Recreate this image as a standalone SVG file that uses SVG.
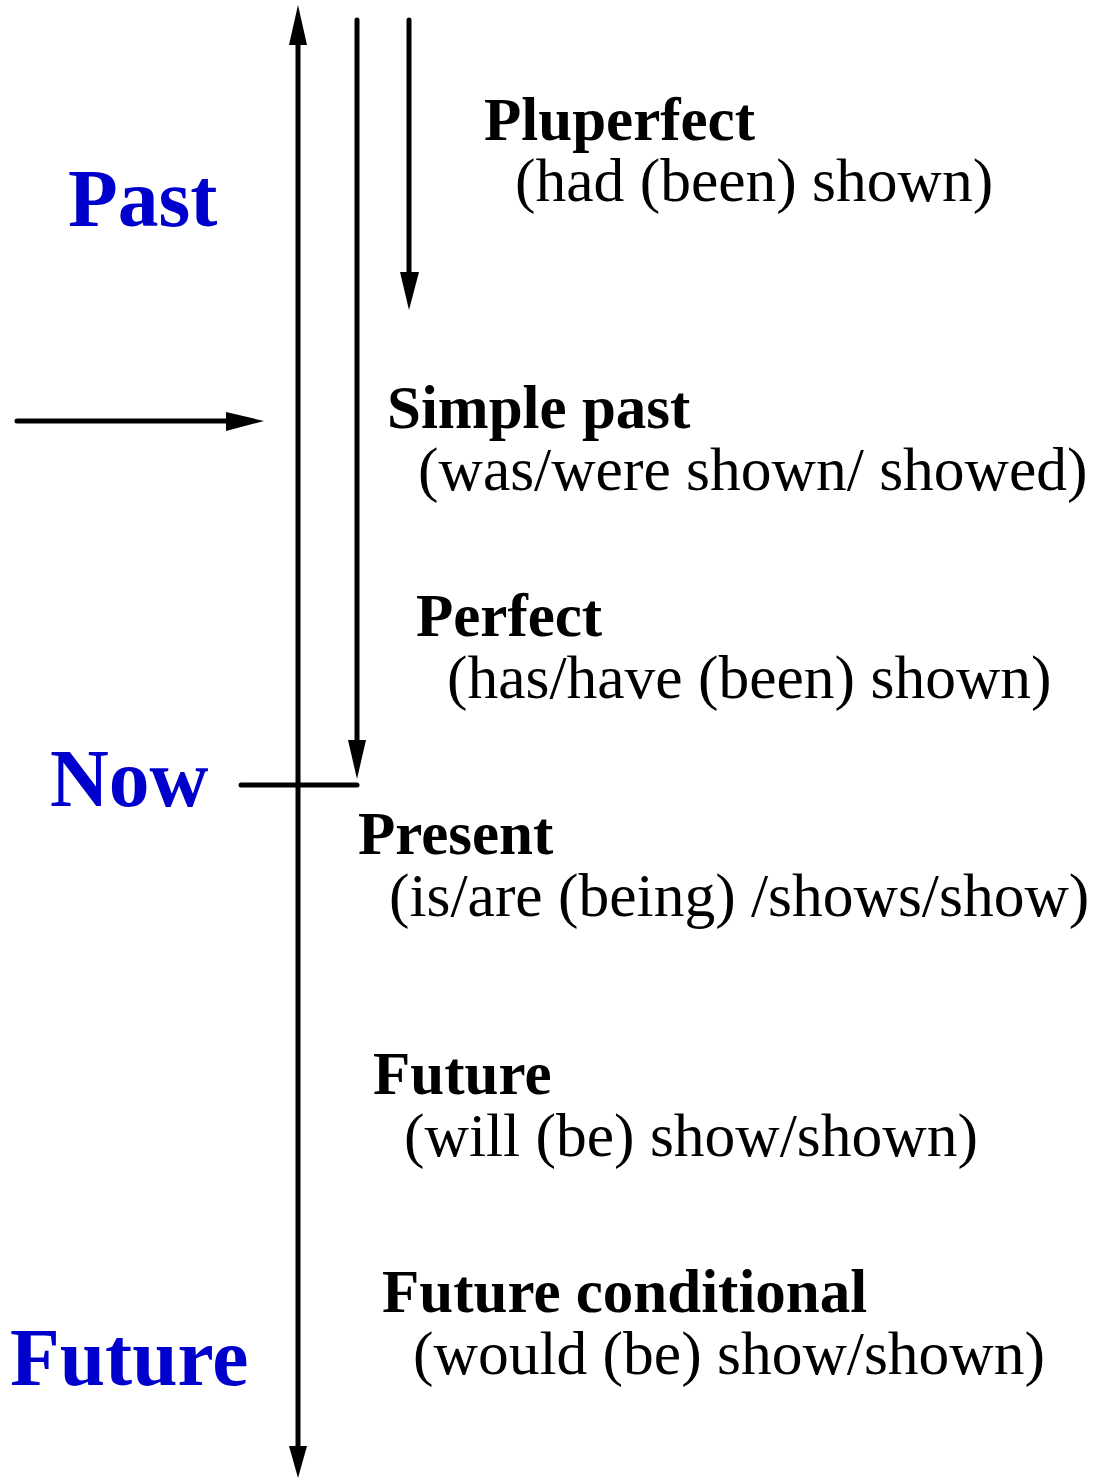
<svg xmlns="http://www.w3.org/2000/svg" width="1096" height="1480" viewBox="0 0 1096 1480">
<style>
.ln{stroke:#000;stroke-width:5;fill:none;stroke-linecap:round}
.hd{fill:#000}
.big{font-family:"Liberation Serif","Times New Roman",serif;font-weight:bold;font-size:81.5px;fill:#0000cc}
.t{font-family:"Liberation Serif","Times New Roman",serif;font-weight:bold;font-size:61px;fill:#000}
.s{font-family:"Liberation Serif","Times New Roman",serif;font-size:61.5px;fill:#000}
</style>
<rect width="1096" height="1480" fill="#fff"/>
<g id="connectors">
<line class="ln" x1="298" y1="40" x2="298" y2="1448" style="stroke-linecap:butt"/>
<polygon class="hd" points="298,5 307,45 289,45"/>
<polygon class="hd" points="298,1478 307,1446 289,1446"/>
<line class="ln" x1="357" y1="20" x2="357" y2="745"/>
<polygon class="hd" points="357,779 348,740 366,740"/>
<line class="ln" x1="409" y1="20" x2="409" y2="276"/>
<polygon class="hd" points="409,310 400,272 419,272"/>
<line class="ln" x1="17" y1="421" x2="230" y2="421"/>
<polygon class="hd" points="264,421 226,412 226,431"/>
<line class="ln" x1="241" y1="785" x2="357" y2="785"/>
</g>
<g id="past"><text class="big" x="68" y="226">Past</text></g>
<g id="now"><text class="big" x="50" y="806">Now</text></g>
<g id="future-axis"><text class="big" x="10" y="1385">Future</text></g>
<g id="pluperfect"><text class="t" x="484" y="140">Pluperfect</text><text class="s" x="515" y="201">(had (been) shown)</text></g>
<g id="simple-past"><text class="t" x="387" y="428">Simple past</text><text class="s" x="418" y="490">(was/were shown/ showed)</text></g>
<g id="perfect"><text class="t" x="416" y="636">Perfect</text><text class="s" x="447" y="698">(has/have (been) shown)</text></g>
<g id="present"><text class="t" x="358" y="854">Present</text><text class="s" x="389" y="916">(is/are (being) /shows/show)</text></g>
<g id="future"><text class="t" x="373" y="1094">Future</text><text class="s" x="404" y="1156">(will (be) show/shown)</text></g>
<g id="future-conditional"><text class="t" x="382" y="1312">Future conditional</text><text class="s" x="413" y="1374">(would (be) show/shown)</text></g>
</svg>
